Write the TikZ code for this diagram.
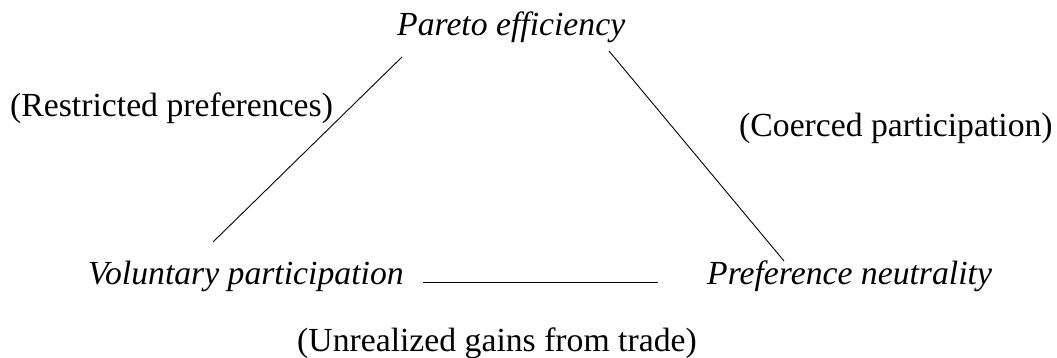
\documentclass[tikz,border=0pt]{standalone}
\usepackage{fontspec}
\setmainfont{Liberation Serif}
\begin{document}
\begin{tikzpicture}[x=1pt,y=-1pt,
  lbl/.style={inner sep=0pt, anchor=base west, font=\fontsize{33.7}{40}\selectfont},
  ilbl/.style={lbl, font=\fontsize{33.7}{40}\selectfont\itshape},
  conn/.style={line width=0.9pt, black}]
\useasboundingbox (0,0) rectangle (1057,358);
\node[ilbl] (pe) at (397,36) {Pareto efficiency};
\node[ilbl] (vp) at (88,284) {Voluntary participation};
\node[ilbl] (pn) at (707,284) {Preference neutrality};
\node[lbl] (rp) at (10,117) {(Restricted preferences)};
\node[lbl] (cp) at (739,137) {(Coerced participation)};
\node[lbl] (ug) at (297,351) {(Unrealized gains from trade)};
\coordinate (l1) at (402,57);
\coordinate (l2) at (213,242);
\coordinate (r1) at (609,51);
\coordinate (r2) at (784,261);
\coordinate (b1) at (423,282);
\coordinate (b2) at (658,282);
\draw[conn] (l1) -- (l2);
\draw[conn] (r1) -- (r2);
\draw[conn] (b1) -- (b2);
\end{tikzpicture}
\end{document}
